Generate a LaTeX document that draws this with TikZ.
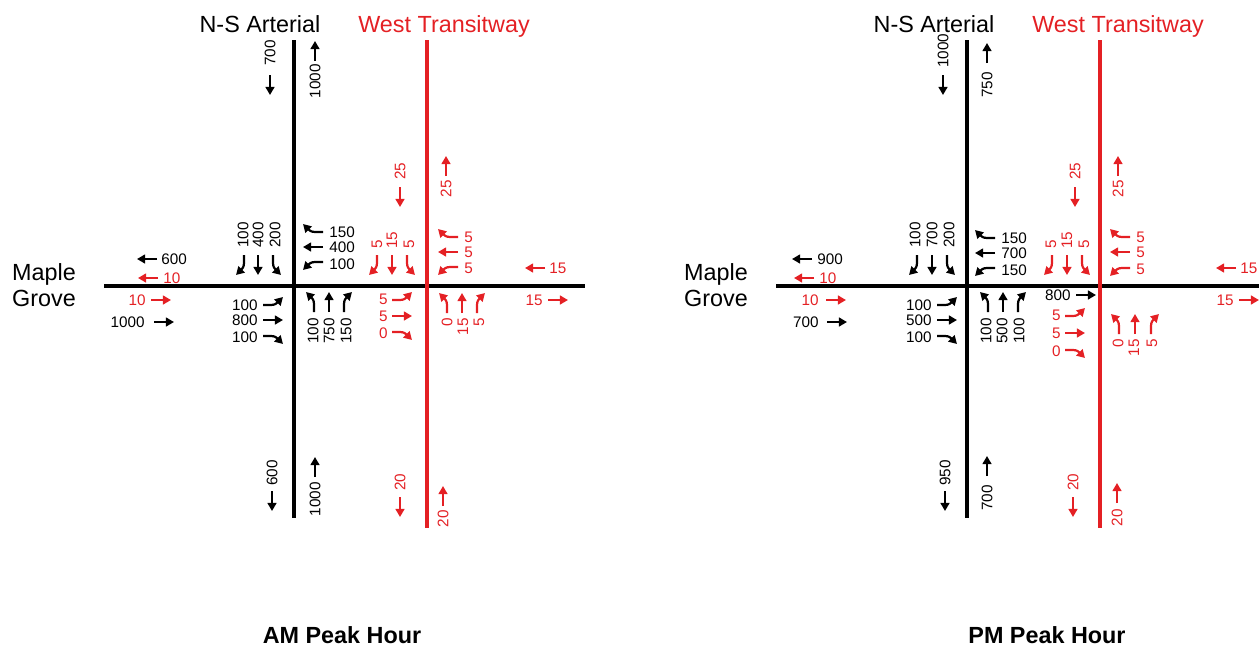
\documentclass[tikz,border=0pt]{standalone}
\usepackage{fontspec}
\setmainfont{Liberation Sans}
\usetikzlibrary{arrows.meta}
\definecolor{twred}{RGB}{228,32,36}

\begin{document}
\begin{tikzpicture}[x=0.02cm, y=-0.02cm, font=\fontsize{8.7}{10}\selectfont]
    \tikzstyle{road_black} = [black, line width=2.2pt]
    \tikzstyle{road_red} = [twred, line width=2.2pt]
    \tikzstyle{street_name} = [inner sep=0, font=\fontsize{13.3}{15}\selectfont, align=center]
    \tikzstyle{peak_name} = [inner sep=0, anchor=base, font=\fontsize{13.3}{15}\selectfont\bfseries]
    \tikzstyle{vol_up} = [inner sep=0, rotate=90, anchor=east]
    \tikzstyle{vol_down} = [inner sep=0, rotate=90, anchor=west]
    \tikzstyle{vol_left} = [inner sep=0, anchor=west]
    \tikzstyle{vol_right} = [inner sep=0, anchor=east]
    \tikzstyle{arrow_move} = [line width=1.25pt, -{Triangle[length=4.6pt, width=5pt]}]
    \tikzstyle{nb} = [rotate=0]
    \tikzstyle{sb} = [rotate=180]
    \tikzstyle{wb} = [rotate=90]
    \tikzstyle{eb} = [rotate=-90]
    \tikzset{
        thru/.pic = {\draw[arrow_move] (0,0) -- (0,-20);},
        lturn/.pic = {\draw[arrow_move] (0,0) -- (0,-8) .. controls (0,-12) and (-2,-14) .. (-8,-20);},
        rturn/.pic = {\draw[arrow_move] (0,0) -- (0,-8) .. controls (0,-12) and (2,-14) .. (8,-20);}
    }

    \useasboundingbox (0,0) rectangle (1259,647);

    % --------------------------------------- AM roads

    \coordinate (am_ns_n) at (294,40);
    \coordinate (am_ns_s) at (294,518);
    \coordinate (am_tw_n) at (427,40);
    \coordinate (am_tw_s) at (427,528);
    \coordinate (am_mg_w) at (104,286);
    \coordinate (am_mg_e) at (585,286);

    \draw[road_black] (am_mg_w) -- (am_mg_e);
    \draw[road_black] (am_ns_n) -- (am_ns_s);
    \draw[road_red] (am_tw_n) -- (am_tw_s);

    \node[street_name, anchor=base] (am_ns) at (260,32) {N-S Arterial};
    \node[street_name, anchor=base, twred] (am_tw) at (444,32) {West Transitway};
    \node[street_name] (am_mg) at (44,285) {Maple\\Grove};
    \node[peak_name] (am_peak) at (342,643) {AM Peak Hour};

    % --------------------------------------- AM links

    \pic[sb] at (270,75) {thru};
    \node[vol_down] (am_ns_sb_n) at (270,66) {700};
    \pic[nb] at (315,61) {thru};
    \node[vol_up] (am_ns_nb_n) at (315,64) {1000};
    \pic[sb] at (272,491) {thru};
    \node[vol_down] (am_ns_sb_s) at (272,486) {600};
    \pic[nb] at (315,477) {thru};
    \node[vol_up] (am_ns_nb_s) at (315,482) {1000};

    \pic[sb, twred] at (400,187) {thru};
    \node[vol_down, twred] (am_tw_sb_n) at (400,180) {25};
    \pic[nb, twred] at (446,176) {thru};
    \node[vol_up, twred] (am_tw_nb_n) at (446,180) {25};
    \pic[sb, twred] at (400,497) {thru};
    \node[vol_down, twred] (am_tw_sb_s) at (400,491) {20};
    \pic[nb, twred] at (443,506) {thru};
    \node[vol_up, twred] (am_tw_nb_s) at (443,510) {20};

    \pic[wb] at (157,259) {thru};
    \node[vol_left] (am_mg_wb_w) at (161,259) {600};
    \pic[wb, twred] at (158,278) {thru};
    \node[vol_left, twred] (am_mg_wbx_w) at (163,278) {10};
    \pic[eb, twred] at (151,300) {thru};
    \node[vol_right, twred] (am_mg_ebx_w) at (146,300) {10};
    \pic[eb] at (154,322) {thru};
    \node[vol_right] (am_mg_eb_w) at (145,322) {1000};
    \pic[wb, twred] at (545,268) {thru};
    \node[vol_left, twred] (am_mg_wbx_e) at (549,268) {15};
    \pic[eb, twred] at (548,300) {thru};
    \node[vol_right, twred] (am_mg_ebx_e) at (543,300) {15};

    % --------------------------------------- AM arterial turns

    \pic[sb] at (244,255) {rturn};
    \pic[sb] at (258,255) {thru};
    \pic[sb] at (273,255) {lturn};
    \node[vol_down] (am_a_sbr) at (243,248) {100};
    \node[vol_down] (am_a_sbt) at (258,248) {400};
    \node[vol_down] (am_a_sbl) at (275,248) {200};

    \pic[eb] at (263,305) {lturn};
    \pic[eb] at (263,320) {thru};
    \pic[eb] at (263,336) {rturn};
    \node[vol_right] (am_a_ebl) at (258,305) {100};
    \node[vol_right] (am_a_ebt) at (258,320) {800};
    \node[vol_right] (am_a_ebr) at (258,337) {100};

    \pic[wb] at (323,232) {rturn};
    \pic[wb] at (323,247) {thru};
    \pic[wb] at (323,262) {lturn};
    \node[vol_left] (am_a_wbr) at (329,232) {150};
    \node[vol_left] (am_a_wbt) at (329,247) {400};
    \node[vol_left] (am_a_wbl) at (329,264) {100};

    \pic[nb] at (314,312) {lturn};
    \pic[nb] at (329,312) {thru};
    \pic[nb] at (344,312) {rturn};
    \node[vol_up] (am_a_nbl) at (313,318) {100};
    \node[vol_up] (am_a_nbt) at (329,318) {750};
    \node[vol_up] (am_a_nbr) at (346,318) {150};

    % --------------------------------------- AM transitway turns

    \pic[sb, twred] at (377,255) {rturn};
    \pic[sb, twred] at (392,255) {thru};
    \pic[sb, twred] at (407,255) {lturn};
    \node[vol_down, twred] (am_t_sbr) at (377,249) {5};
    \node[vol_down, twred] (am_t_sbt) at (392,249) {15};
    \node[vol_down, twred] (am_t_sbl) at (409,249) {5};

    \pic[wb, twred] at (458,237) {rturn};
    \pic[wb, twred] at (458,252) {thru};
    \pic[wb, twred] at (458,267) {lturn};
    \node[vol_left, twred] (am_t_wbr) at (464,237) {5};
    \node[vol_left, twred] (am_t_wbt) at (464,252) {5};
    \node[vol_left, twred] (am_t_wbl) at (464,268) {5};

    \pic[eb, twred] at (392,300) {lturn};
    \pic[eb, twred] at (392,316) {thru};
    \pic[eb, twred] at (392,332) {rturn};
    \node[vol_right, twred] (am_t_ebl) at (388,299) {5};
    \node[vol_right, twred] (am_t_ebt) at (388,316) {5};
    \node[vol_right, twred] (am_t_ebr) at (388,333) {0};

    \pic[nb, twred] at (447,313) {lturn};
    \pic[nb, twred] at (462,313) {thru};
    \pic[nb, twred] at (477,313) {rturn};
    \node[vol_up, twred] (am_t_nbl) at (447,318) {0};
    \node[vol_up, twred] (am_t_nbt) at (463,318) {15};
    \node[vol_up, twred] (am_t_nbr) at (479,318) {5};

    % --------------------------------------- PM roads

    \coordinate (pm_ns_n) at (967,40);
    \coordinate (pm_ns_s) at (967,518);
    \coordinate (pm_tw_n) at (1100,40);
    \coordinate (pm_tw_s) at (1100,528);
    \coordinate (pm_mg_w) at (776,286);
    \coordinate (pm_mg_e) at (1259,286);

    \draw[road_black] (pm_mg_w) -- (pm_mg_e);
    \draw[road_black] (pm_ns_n) -- (pm_ns_s);
    \draw[road_red] (pm_tw_n) -- (pm_tw_s);

    \node[street_name, anchor=base] (pm_ns) at (934,32) {N-S Arterial};
    \node[street_name, anchor=base, twred] (pm_tw) at (1118,32) {West Transitway};
    \node[street_name] (pm_mg) at (716,285) {Maple\\Grove};
    \node[peak_name] (pm_peak) at (1047,643) {PM Peak Hour};

    % --------------------------------------- PM links

    \pic[sb] at (943,75) {thru};
    \node[vol_down] (pm_ns_sb_n) at (943,68) {1000};
    \pic[nb] at (987,63) {thru};
    \node[vol_up] (pm_ns_nb_n) at (987,72) {750};
    \pic[sb] at (945,491) {thru};
    \node[vol_down] (pm_ns_sb_s) at (945,486) {950};
    \pic[nb] at (987,476) {thru};
    \node[vol_up] (pm_ns_nb_s) at (987,485) {700};

    \pic[sb, twred] at (1075,187) {thru};
    \node[vol_down, twred] (pm_tw_sb_n) at (1075,180) {25};
    \pic[nb, twred] at (1118,176) {thru};
    \node[vol_up, twred] (pm_tw_nb_n) at (1118,180) {25};
    \pic[sb, twred] at (1073,497) {thru};
    \node[vol_down, twred] (pm_tw_sb_s) at (1073,491) {20};
    \pic[nb, twred] at (1117,503) {thru};
    \node[vol_up, twred] (pm_tw_nb_s) at (1117,509) {20};

    \pic[wb] at (812,259) {thru};
    \node[vol_left] (pm_mg_wb_w) at (817,259) {900};
    \pic[wb, twred] at (814,278) {thru};
    \node[vol_left, twred] (pm_mg_wbx_w) at (819,278) {10};
    \pic[eb, twred] at (826,300) {thru};
    \node[vol_right, twred] (pm_mg_ebx_w) at (819,300) {10};
    \pic[eb] at (827,322) {thru};
    \node[vol_right] (pm_mg_eb_w) at (819,322) {700};
    \pic[wb, twred] at (1236,268) {thru};
    \node[vol_left, twred] (pm_mg_wbx_e) at (1240,268) {15};
    \pic[eb, twred] at (1239,300) {thru};
    \node[vol_right, twred] (pm_mg_ebx_e) at (1234,300) {15};

    % --------------------------------------- PM arterial turns

    \pic[sb] at (917,255) {rturn};
    \pic[sb] at (932,255) {thru};
    \pic[sb] at (947,255) {lturn};
    \node[vol_down] (pm_a_sbr) at (915,248) {100};
    \node[vol_down] (pm_a_sbt) at (932,248) {700};
    \node[vol_down] (pm_a_sbl) at (949,248) {200};

    \pic[eb] at (937,305) {lturn};
    \pic[eb] at (937,320) {thru};
    \pic[eb] at (937,336) {rturn};
    \node[vol_right] (pm_a_ebl) at (932,305) {100};
    \node[vol_right] (pm_a_ebt) at (932,320) {500};
    \node[vol_right] (pm_a_ebr) at (932,337) {100};

    \pic[wb] at (995,238) {rturn};
    \pic[wb] at (995,253) {thru};
    \pic[wb] at (995,268) {lturn};
    \node[vol_left] (pm_a_wbr) at (1001,238) {150};
    \node[vol_left] (pm_a_wbt) at (1001,253) {700};
    \node[vol_left] (pm_a_wbl) at (1001,270) {150};

    \pic[nb] at (988,312) {lturn};
    \pic[nb] at (1003,312) {thru};
    \pic[nb] at (1018,312) {rturn};
    \node[vol_up] (pm_a_nbl) at (986,318) {100};
    \node[vol_up] (pm_a_nbt) at (1002,318) {500};
    \node[vol_up] (pm_a_nbr) at (1019,318) {100};

    % --------------------------------------- PM transitway turns

    \pic[sb, twred] at (1052,255) {rturn};
    \pic[sb, twred] at (1067,255) {thru};
    \pic[sb, twred] at (1082,255) {lturn};
    \node[vol_down, twred] (pm_t_sbr) at (1051,249) {5};
    \node[vol_down, twred] (pm_t_sbt) at (1067,249) {15};
    \node[vol_down, twred] (pm_t_sbl) at (1084,249) {5};

    \pic[wb, twred] at (1130,237) {rturn};
    \pic[wb, twred] at (1130,252) {thru};
    \pic[wb, twred] at (1130,268) {lturn};
    \node[vol_left, twred] (pm_t_wbr) at (1136,237) {5};
    \node[vol_left, twred] (pm_t_wbt) at (1136,252) {5};
    \node[vol_left, twred] (pm_t_wbl) at (1136,269) {5};

    \pic[eb] at (1076,295) {thru};
    \node[vol_right] (pm_t_ebt_car) at (1071,295) {800};

    \pic[eb, twred] at (1065,316) {lturn};
    \pic[eb, twred] at (1065,333) {thru};
    \pic[eb, twred] at (1065,350) {rturn};
    \node[vol_right, twred] (pm_t_ebl) at (1061,315) {5};
    \node[vol_right, twred] (pm_t_ebt) at (1061,333) {5};
    \node[vol_right, twred] (pm_t_ebr) at (1061,351) {0};

    \pic[nb, twred] at (1119,334) {lturn};
    \pic[nb, twred] at (1135,334) {thru};
    \pic[nb, twred] at (1151,334) {rturn};
    \node[vol_up, twred] (pm_t_nbl) at (1118,339) {0};
    \node[vol_up, twred] (pm_t_nbt) at (1134,339) {15};
    \node[vol_up, twred] (pm_t_nbr) at (1152,339) {5};

\end{tikzpicture}
\end{document}
